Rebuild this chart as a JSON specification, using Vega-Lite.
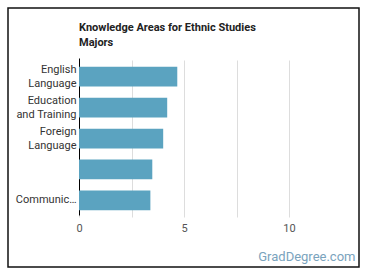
{
  "$schema": "https://vega.github.io/schema/vega-lite/v6.json",
  "autosize": "none",
  "width": 351,
  "height": 259,
  "padding": {"left": 8, "top": 8, "right": 11, "bottom": 11},
  "background": "white",
  "title": {
    "text": ["Knowledge Areas for Ethnic Studies", "Majors"],
    "anchor": "start",
    "frame": "group",
    "orient": "top",
    "baseline": "top",
    "offset": -14,
    "dx": 71,
    "dy": 26,
    "font": "Roboto",
    "fontSize": 11,
    "fontWeight": "bold",
    "color": "#222222",
    "lineHeight": 15
  },
  "data": {
    "values": [
      {"area": "English Language", "score": 4.68},
      {"area": "Education and Training", "score": 4.2},
      {"area": "Foreign Language", "score": 4.01},
      {"area": "Sociology and Anthropology", "score": 3.49},
      {"area": "Communications and Media", "score": 3.4}
    ]
  },
  "mark": {"type": "bar", "color": "#5ba3c0"},
  "encoding": {
    "y": {
      "field": "area",
      "type": "nominal",
      "sort": null,
      "scale": {"range": [50, 207], "paddingInner": 0.36, "paddingOuter": 0.22, "align": 0.65},
      "axis": {
        "title": null,
        "offset": -71,
        "ticks": false,
        "grid": false,
        "domainColor": "#000000",
        "domainWidth": 1,
        "labelPadding": 3,
        "labelFont": "Roboto",
        "labelFontSize": 11,
        "labelColor": "#333333",
        "labelLineHeight": 14,
        "labelLimit": 200,
        "labelOffset": {"condition": {"test": "datum.value == 'Communications and Media'", "value": 0}, "value": -7},
        "labelExpr": "datum.value == 'English Language' ? ['English', 'Language'] : datum.value == 'Education and Training' ? ['Education', 'and Training'] : datum.value == 'Foreign Language' ? ['Foreign', 'Language'] : datum.value == 'Communications and Media' ? 'Communic…' : ''"
      }
    },
    "x": {
      "field": "score",
      "type": "quantitative",
      "scale": {"domain": [0, 12.5], "range": [71, 333.5], "nice": false, "zero": true},
      "axis": {
        "title": "GradDegree.com",
        "titleFont": "Roboto",
        "titleFontSize": 13,
        "titleFontWeight": "normal",
        "titleColor": "#7aa3bd",
        "titleAnchor": "end",
        "titleAlign": "right",
        "titleBaseline": "alphabetic",
        "titleX": 347,
        "titleY": 45,
        "offset": -52,
        "domain": false,
        "ticks": false,
        "grid": true,
        "gridColor": "#dddddd",
        "gridWidth": 1,
        "values": [0, 2.5, 5, 7.5, 10],
        "labelExpr": "datum.value % 5 === 0 ? datum.label : ''",
        "labelFlush": false,
        "labelPadding": 7,
        "labelFont": "Roboto",
        "labelFontSize": 11,
        "labelColor": "#555555"
      }
    }
  },
  "config": {
    "view": {"stroke": "#111111", "strokeWidth": 1.5}
  }
}
